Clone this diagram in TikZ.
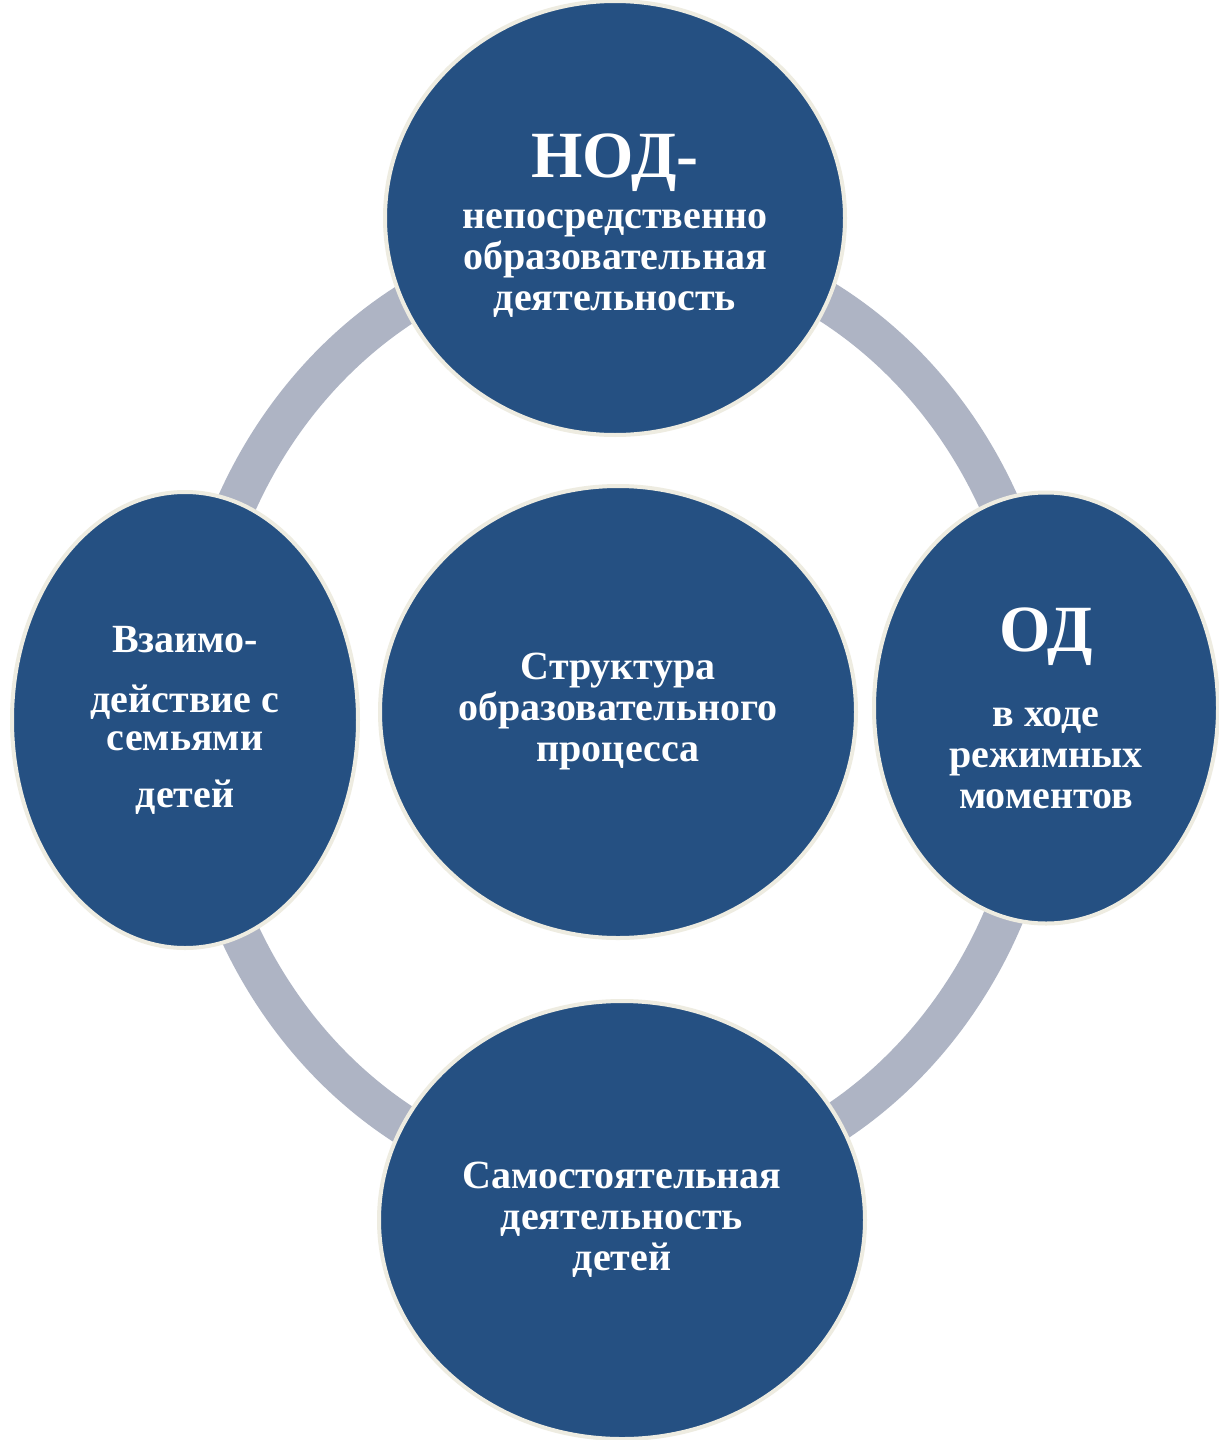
\documentclass[tikz,border=0pt]{standalone}
\usepackage{fontspec}
\setmainfont{Liberation Serif}
\usetikzlibrary{shapes.geometric}

\definecolor{blobblue}{RGB}{37,80,130}
\definecolor{blobrim}{RGB}{238,236,225}
\definecolor{ringgray}{RGB}{174,180,196}

\newcommand{\txtfont}{\fontsize{40}{41}\selectfont\bfseries}
\newcommand{\bigfont}{\fontsize{66}{66}\selectfont}

\tikzset{
	blob/.style={ellipse, draw=blobrim, line width=4pt, fill=blobblue,
		inner sep=0pt, text=white, align=center, font=\txtfont},
	ring/.style={draw=ringgray, line width=40pt}
}

\begin{document}
\begin{tikzpicture}[x=1pt,y=-1pt]
	\path[use as bounding box, fill=white] (0,0) rectangle (1218,1440);

	% middle
	\node[blob, minimum width=476pt, minimum height=452pt] (struct) at (618,712)
		{Структура\\образовательного\\процесса};

	\draw[ring] ([yshift=-3pt]struct.center) ellipse [x radius=426, y radius=474];

	% around
	\node[blob, minimum width=460pt, minimum height=434pt] (nod) at (615,218)
		{\rule{0pt}{58pt}{\bigfont НОД-}\\[10pt]непосредственно\\образовательная\\деятельность};
	\node[blob, minimum width=344pt, minimum height=431pt] (od) at (1046,708)
		{{\bigfont ОД}\\[34pt]в ходе\\режимных\\моментов};
	\node[blob, minimum width=486pt, minimum height=438pt] (self) at (622,1220)
		{Самостоятельная\\деятельность\\детей};
	\node[blob, minimum width=346pt, minimum height=456pt] (family) at (185,720)
		{Взаимо-\\[19pt]действие с\\[-3pt]семьями\\[16pt]детей};
\end{tikzpicture}
\end{document}
